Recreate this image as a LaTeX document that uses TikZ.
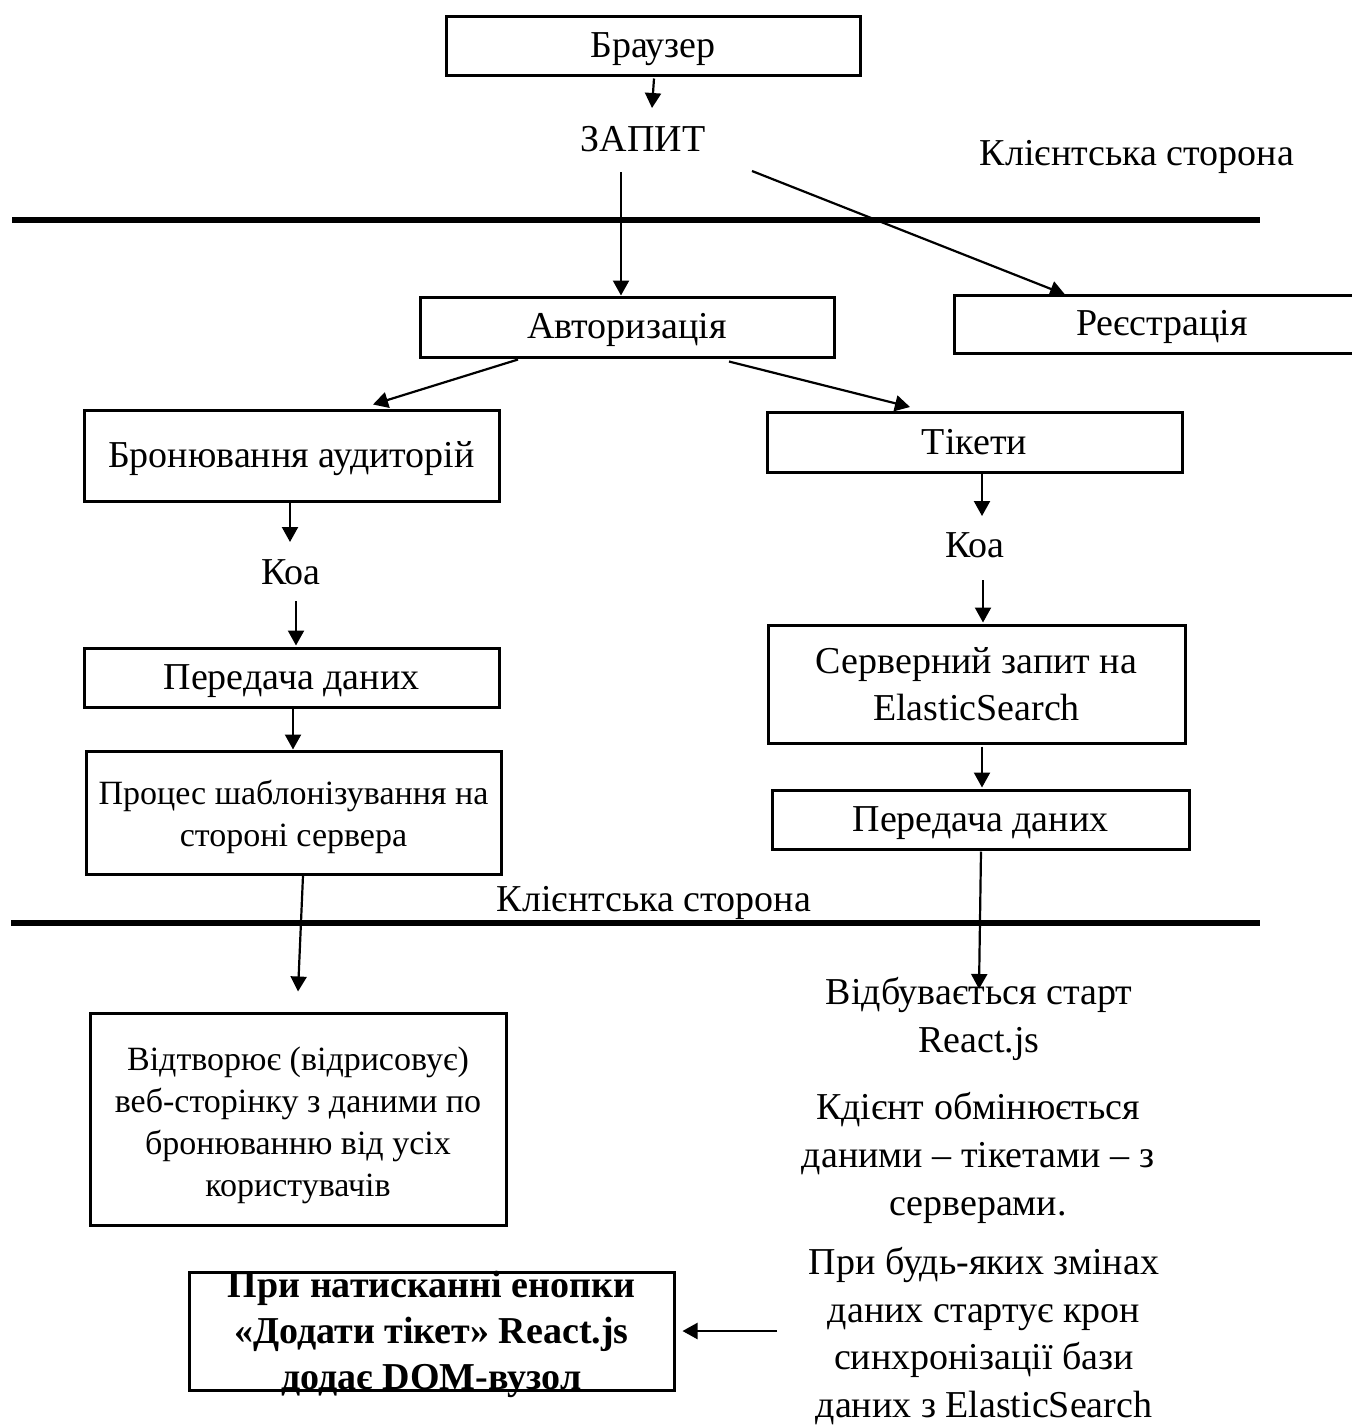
\documentclass[tikz,border=0pt]{standalone}
\usepackage{fontspec}
\setmainfont{Liberation Serif}
\usetikzlibrary{arrows.meta,calc}
\newcommand\mainsz{\fontsize{19pt}{23.75pt}\selectfont}
\newcommand\smallsz{\fontsize{17pt}{21pt}\selectfont}
\newcommand\boldsz{\fontsize{19pt}{23pt}\selectfont\bfseries}
\begin{document}
\begin{tikzpicture}[x=0.5pt,y=-0.5pt,
  box/.style={draw,line width=1.5pt,inner sep=0pt,align=center,font=\mainsz},
  txt/.style={inner sep=0pt,align=center,font=\mainsz},
  one/.style={text height=1.36em,text depth=0.18em},
  arr/.style={line width=1.1pt,-{Triangle[length=7.5pt,width=8pt]}},
  sepline/.style={line width=3.4pt}]
\useasboundingbox (0,0) rectangle (1352,1425);
\fill[white] (0,0) rectangle (1352,1425);

% separator lines
\coordinate (l1a) at (12,220);
\coordinate (l1b) at (1260,220);
\coordinate (l2a) at (11,923);
\coordinate (l2b) at (1260,923);
\draw[sepline] (l1a) -- (l1b);
\draw[sepline] (l2a) -- (l2b);

% top
\node[box,one,minimum width=207pt,minimum height=29.5pt] (browser) at (653,45.5) {Браузер};
\node[txt,one] (zapyt) at (643,140) {ЗАПИТ};
\node[txt,one] (client1) at (1137,154) {Клієнтська сторона};
\node[box,one,minimum width=207pt,minimum height=30pt] (auth) at (627,327) {Авторизація};
\node[box,one,minimum width=208pt,minimum height=29pt] (reg) at (1162,324) {Реєстрація};

% left column
\node[box,one,minimum width=207.5pt,minimum height=45.5pt] (bron) at (291.5,455.5) {Бронювання аудиторій};
\node[txt,one] (koa1) at (291,573) {Коа};
\node[box,one,minimum width=207.5pt,minimum height=29.5pt] (per1) at (291.5,677.5) {Передача даних};
\node[box,minimum width=207.5pt,minimum height=61.5pt] (proc) at (293.5,812.5) {};
\node[txt,font=\smallsz] (proctxt) at ($(proc.center)+(0,4)$) {Процес шаблонізування на\\стороні сервера};
\node[txt,one] (client2) at (654,900) {Клієнтська сторона};
\node[box,minimum width=208pt,minimum height=106pt] (vidtv) at (298,1119) {};
\node[txt,font=\smallsz] (vidtvtxt) at ($(vidtv.center)+(0,6)$) {Відтворює (відрисовує)\\веб-сторінку з даними по\\бронюванню від усіх\\користувачів};
\node[box,minimum width=242.5pt,minimum height=59pt] (bold) at (431.5,1331) {};
\node[txt,font=\boldsz] (boldtxt) at ($(bold.center)+(0,3)$) {При натисканні енопки\\«Додати тікет» React.js\\додає DOM-вузол};

% right column
\node[box,one,minimum width=207.5pt,minimum height=30pt] (tick) at (974.5,442.5) {Тікети};
\node[txt,one] (koa2) at (975,546) {Коа};
\node[box,minimum width=208.5pt,minimum height=59pt] (serv) at (976.5,684) {Серверний запит на\\ElasticSearch};
\node[box,one,minimum width=208.5pt,minimum height=29.5pt] (per2) at (980.5,819.5) {Передача даних};
\node[txt,font=\fontsize{19pt}{24pt}\selectfont] (start) at (979,1019) {Відбувається старт\\React.js};
\node[txt,font=\fontsize{19pt}{24pt}\selectfont] (client3) at (978,1158) {Кдієнт обмінюється\\даними – тікетами – з\\серверами.};
\node[txt] (sync) at (984,1336) {При будь-яких змінах\\даних стартує крон\\синхронізації бази\\даних з ElasticSearch};

% connectors
\draw[arr] ($(browser.south)+(1,2)$) -- ($(zapyt.center)+(9,-32)$);
\draw[arr] ($(zapyt.center)+(-22,32)$) -- ($(auth.north)+(-6,0)$);
\draw[arr] ($(zapyt.center)+(109,31)$) -- ($(reg.north)+(-97,1)$);
\draw[arr] ($(auth.south)+(-109,1)$) -- ($(bron.north)+(81.5,-4)$);
\draw[arr] ($(auth.south)+(102,3)$) -- ($(tick.north)+(-64.5,-4)$);
\draw[arr] ($(bron.south)+(-1.5,0)$) -- ($(koa1.center)+(-1,-31)$);
\draw[arr] ($(koa1.center)+(5,28)$) -- ($(per1.north)+(4.5,-1)$);
\draw[arr] ($(per1.south)+(1.5,0)$) -- ($(proc.north)+(-0.5,0)$);
\draw[arr] ($(proc.south)+(9.5,0)$) -- ($(vidtv.north)+(0,-20)$);
\draw[arr] ($(tick.south)+(7.5,0)$) -- ($(koa2.center)+(7,-30)$);
\draw[arr] ($(koa2.center)+(8,34)$) -- ($(serv.north)+(6.5,-1)$);
\draw[arr] ($(serv.south)+(5.5,2)$) -- ($(per2.north)+(1.5,-1)$);
\draw[arr] ($(per2.south)+(0.5,1)$) -- ($(start.center)+(0,-30)$);
\draw[arr] ($(sync.center)+(-207,-5)$) -- ($(bold.east)+(7,0)$);
\end{tikzpicture}
\end{document}
